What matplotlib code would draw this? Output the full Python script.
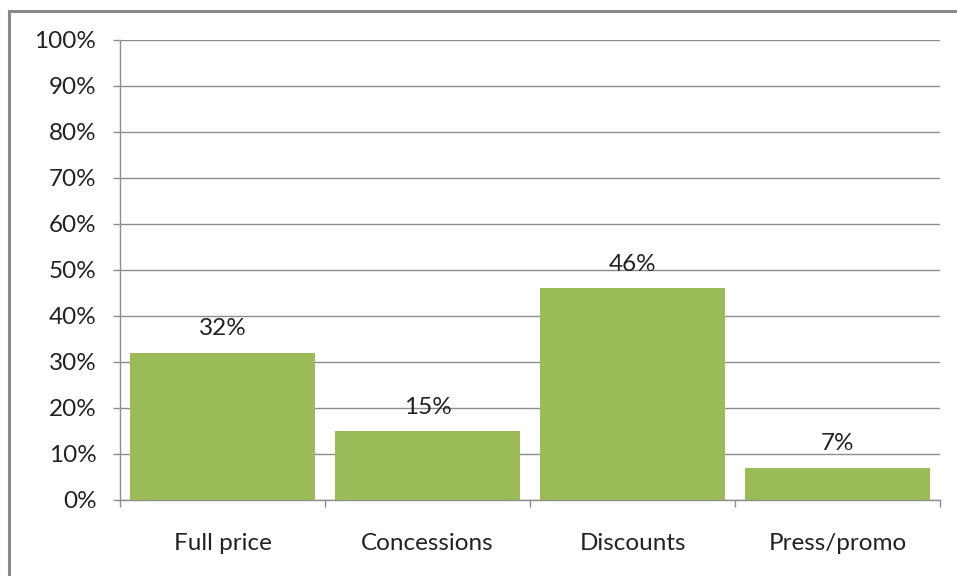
import matplotlib
matplotlib.use("Agg")
import matplotlib.pyplot as plt
from matplotlib.patches import Rectangle
from matplotlib.ticker import FixedLocator, PercentFormatter

categories = ["Full price", "Concessions", "Discounts", "Press/promo"]
shares = [32, 15, 46, 7]
y_ticks = list(range(0, 101, 10))

plt.rcParams["font.family"] = ["Lato", "DejaVu Sans"]

W, H = 957, 576
fig = plt.figure(figsize=(W / 100, H / 100), dpi=100)
ax = fig.add_axes([120 / W, 1 - 500 / H, 820 / W, 460 / H])

green = "#9BBB59"
grid_col = "#8C8C8C"
text_col = "#222222"
fs = 17.5

x = list(range(len(categories)))
ax.bar(x, shares, width=0.905, color=green, zorder=3)

for xi, v in zip(x, shares):
    ax.annotate(f"{v}%", (xi, v), xytext=(0, 12.5), textcoords="offset points",
                ha="center", va="baseline", fontsize=fs, color=text_col)

ax.set_xlim(-0.5, len(categories) - 0.5)
ax.set_ylim(0, 100)
ax.set_yticks(y_ticks)
ax.yaxis.set_major_formatter(PercentFormatter(decimals=0))
ax.yaxis.grid(True, color=grid_col, linewidth=1.0, zorder=0)

ax.set_xticks(x)
ax.set_xticklabels(categories)
ax.xaxis.set_minor_locator(FixedLocator([i - 0.5 for i in range(len(categories) + 1)]))
ax.tick_params(axis="x", which="major", length=0, pad=24, labelsize=fs, labelcolor=text_col)
ax.tick_params(axis="x", which="minor", length=5, width=1, color=grid_col)
ax.tick_params(axis="y", length=5, width=1, color=grid_col, pad=12, labelsize=fs, labelcolor=text_col)

for side in ("top", "right"):
    ax.spines[side].set_visible(False)
for side in ("left", "bottom"):
    ax.spines[side].set_color(grid_col)
    ax.spines[side].set_linewidth(1.0)

# outer chart-area frame, running off the right and bottom edges
fig.patches.append(Rectangle((8.5 / W, -0.1), 1.2, 1 - 10.5 / H + 0.1,
                             transform=fig.transFigure, fill=False,
                             edgecolor="#8A8A8A", linewidth=2.2))

fig.savefig("out.png", dpi=100)
